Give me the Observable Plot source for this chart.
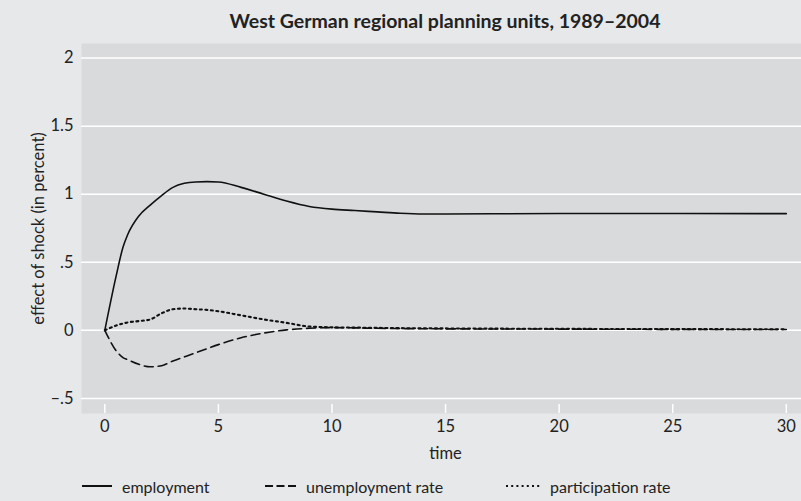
<!DOCTYPE html>
<html>
<head>
<meta charset="utf-8">
<script src="https://cdn.jsdelivr.net/npm/d3@7"></script>
<script src="https://cdn.jsdelivr.net/npm/@observablehq/plot@0.6"></script>
<style>
  html, body { margin: 0; padding: 0; background: #e7e8e9; }
  body { width: 801px; height: 501px; overflow: hidden; font-family: Lato, "Open Sans", sans-serif; color: #222; }
  #title { height: 43px; position: relative; }
  #title span { position: absolute; left: 445px; top: 9px; transform: translateX(-50%); white-space: nowrap; font-size: 19.5px; font-weight: 700; }
  #legend { position: relative; height: 31px; font-size: 16px; }
  .item { position: absolute; top: 5px; display: flex; align-items: center; height: 22px; }
  .item svg { margin-right: 10px; }
</style>
</head>
<body>
<div id="title"><span></span></div>
<div id="chart"></div>
<div id="legend"></div>
<script>
const titleText = "West German regional planning units, 1989–2004";
const yLabel = "effect of shock (in percent)";
const xLabel = "time";

const times        = [0, 0.5, 0.8, 1, 1.5, 2, 2.5, 3, 3.5, 4, 4.5, 5, 6, 7, 8, 9, 10, 11, 12, 13, 14, 15, 20, 25, 30];
const employment   = [0, 0.40, 0.61, 0.70, 0.84, 0.92, 0.99, 1.05, 1.08, 1.09, 1.092, 1.09, 1.05, 1.00, 0.95, 0.91, 0.89, 0.88, 0.87, 0.86, 0.855, 0.855, 0.858, 0.858, 0.857];
const unemployment = [0, -0.15, -0.20, -0.215, -0.25, -0.268, -0.26, -0.225, -0.195, -0.165, -0.135, -0.105, -0.055, -0.02, 0.003, 0.015, 0.02, 0.018, 0.015, 0.013, 0.012, 0.011, 0.009, 0.007, 0.006];
const participation= [0, 0.035, 0.05, 0.058, 0.068, 0.08, 0.125, 0.155, 0.16, 0.155, 0.15, 0.14, 0.11, 0.08, 0.055, 0.028, 0.022, 0.02, 0.018, 0.016, 0.015, 0.014, 0.011, 0.009, 0.008];

const seriesNames = ["employment", "unemployment rate", "participation rate"];
const seriesValues = [employment, unemployment, participation];
const seriesDash = ["none", "9,5", "2,3.5"];
const legendDash = ["none", "8,3.5", "2,3.2"];
const seriesWidth = [1.6, 1.6, 2.1];

const xTicks = [0, 5, 10, 15, 20, 25, 30];
const yTicks = [-0.5, 0, 0.5, 1, 1.5, 2];
const yTickLabels = ["–.5", "0", ".5", "1", "1.5", "2"];

const xDomain = [-1.026, 30.67];
const yDomain = [-0.611, 2.107];

document.querySelector("#title span").textContent = titleText;

const rows = seriesNames.flatMap((name, i) =>
  times.map((t, j) => ({series: name, t, v: seriesValues[i][j]})));

const lineMarks = seriesNames.map((name, i) =>
  Plot.line(rows.filter(d => d.series === name), {
    x: "t", y: "v", stroke: "#111", strokeWidth: seriesWidth[i],
    strokeDasharray: seriesDash[i] === "none" ? null : seriesDash[i],
    curve: "monotone-x"
  }));

const chart = Plot.plot({
  width: 801,
  height: 427,
  marginLeft: 81,
  marginRight: 0,
  marginTop: 0,
  marginBottom: 57,
  style: {background: "transparent", fontFamily: "Lato, 'Open Sans', sans-serif", fontSize: "16px", color: "#222"},
  x: {domain: xDomain},
  y: {domain: yDomain},
  marks: [
    Plot.frame({fill: "#d9dadc", stroke: null}),
    Plot.gridY(yTicks, {stroke: "white", strokeOpacity: 1, strokeWidth: 1.5}),
    Plot.axisX(xTicks, {tickSize: 9, dy: -9, stroke: "white", strokeWidth: 1.5, fill: "none", label: null}),
    Plot.axisX(xTicks, {tickSize: 0, tickPadding: 7, fill: "#222", label: null, fontSize: 16.5}),
    Plot.axisY(yTicks, {tickSize: 0, tickPadding: 8, fill: "#222", label: null, fontSize: 16.5,
      tickFormat: v => yTickLabels[yTicks.indexOf(v)]}),
    Plot.text([yLabel], {frameAnchor: "left", textAnchor: "middle", rotate: -90, dx: -43, text: d => d, fill: "#222", fontSize: 16.5}),
    Plot.text([xLabel], {x: [(xTicks[0] + xTicks[xTicks.length - 1]) / 2], frameAnchor: "bottom", dy: 45, text: d => d, fill: "#222", fontSize: 16.5}),
    ...lineMarks
  ]
});
document.getElementById("chart").appendChild(chart);

const legendX = [82, 265, 506];
const legendKeyW = [30, 31, 34];
const legend = document.getElementById("legend");
seriesNames.forEach((name, i) => {
  const item = document.createElement("div");
  item.className = "item";
  item.style.left = legendX[i] + "px";
  const w = legendKeyW[i];
  item.innerHTML = `<svg width="${w}" height="10"><line x1="0" x2="${w}" y1="5" y2="5" stroke="#111" stroke-width="2" ${legendDash[i] === "none" ? "" : `stroke-dasharray="${legendDash[i]}"`}/></svg><span>${name}</span>`;
  legend.appendChild(item);
});
</script>
</body>
</html>
